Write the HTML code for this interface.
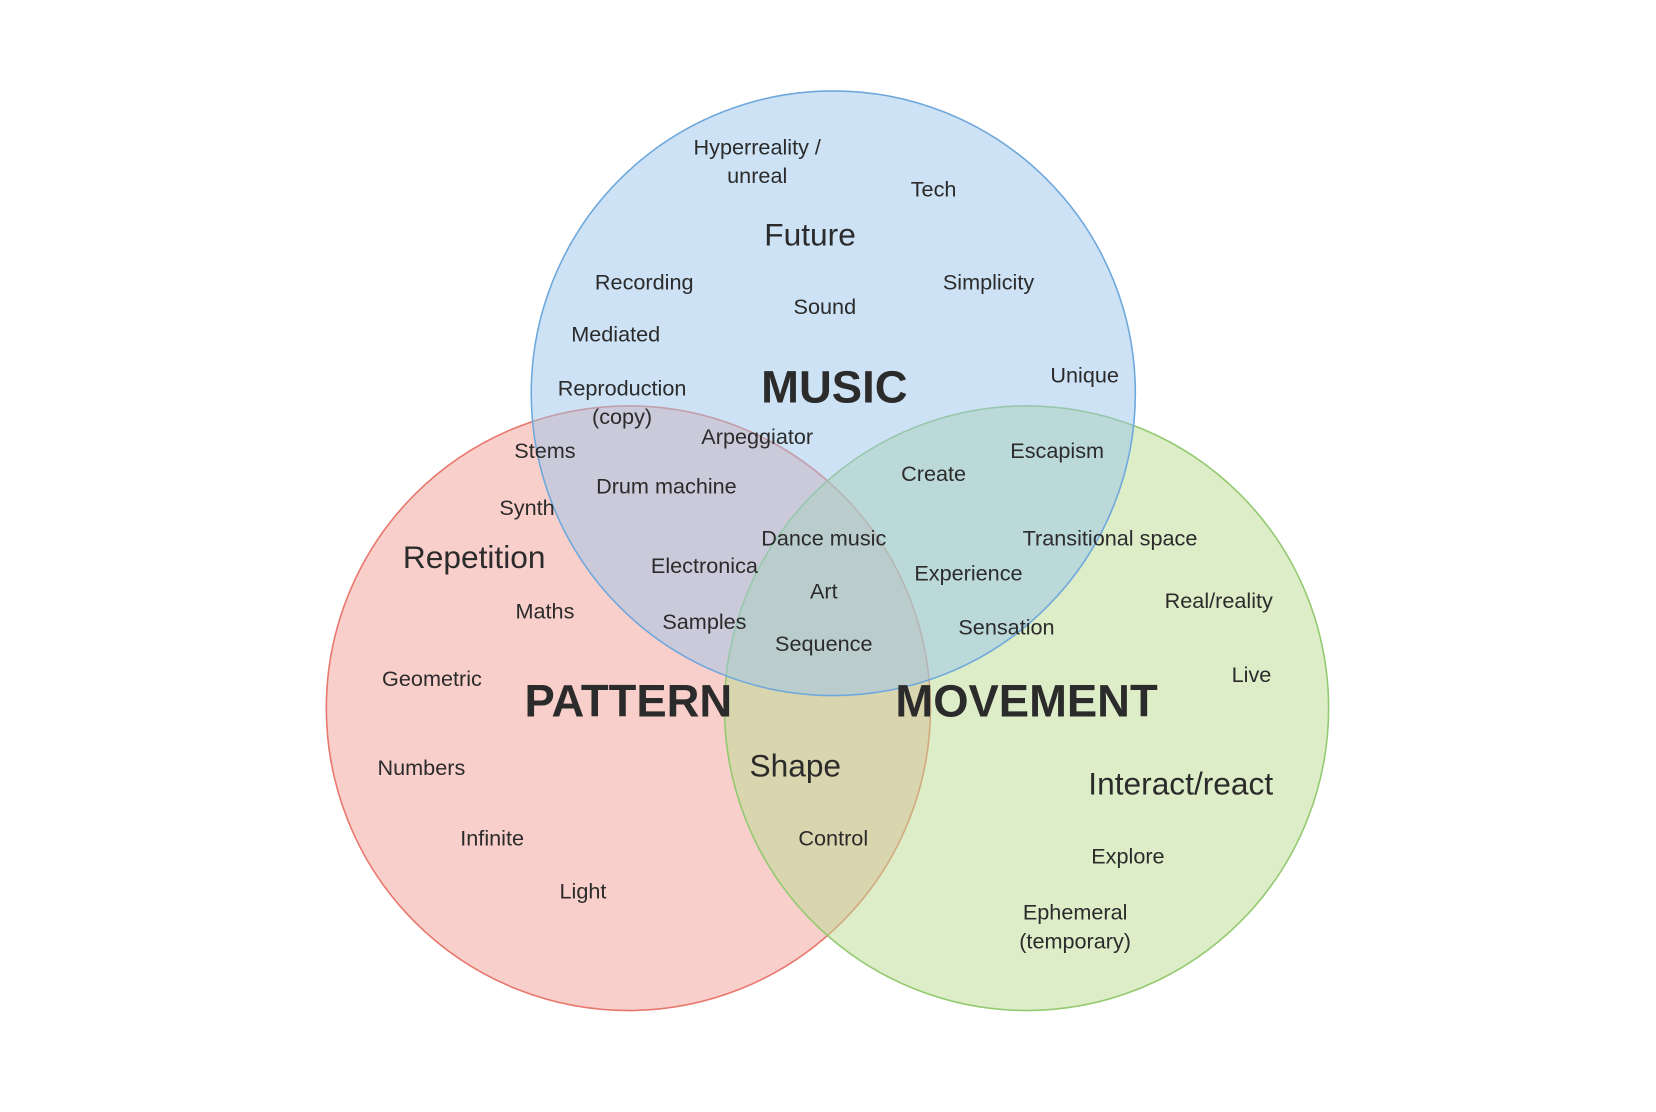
<!DOCTYPE html>
<html><head><meta charset="utf-8"><style>
html,body{margin:0;padding:0;background:#fff;width:1656px;height:1112px;overflow:hidden}
svg text{font-family:"Liberation Sans",sans-serif;fill:#2b2b2b;text-anchor:middle;dominant-baseline:central}
.s{font-size:20.5px}.m{font-size:30px}.b{font-size:43px;font-weight:bold}
</style></head><body>
<svg width="1656" height="1112" viewBox="0 0 1568 1052" preserveAspectRatio="none">
<circle cx="595" cy="670" r="286" fill="rgb(243,159,151)" fill-opacity="0.5" stroke="#e8776d" stroke-width="1.5"/>
<circle cx="972" cy="670" r="286" fill="rgb(185,219,145)" fill-opacity="0.5" stroke="#93c96f" stroke-width="1.5"/>
<circle cx="789" cy="372" r="286" fill="rgb(155,197,233)" fill-opacity="0.5" stroke="#6fa8dc" stroke-width="1.5"/>
<text class="s" x="717" y="139">Hyperreality /</text>
<text class="s" x="717" y="166">unreal</text>
<text class="s" x="884" y="179">Tech</text>
<text class="m" x="767" y="222">Future</text>
<text class="s" x="610" y="267">Recording</text>
<text class="s" x="936" y="267">Simplicity</text>
<text class="s" x="781" y="290">Sound</text>
<text class="s" x="583" y="316">Mediated</text>
<text class="s" x="1027" y="355">Unique</text>
<text class="b" x="790" y="366">MUSIC</text>
<text class="s" x="589" y="367">Reproduction</text>
<text class="s" x="589" y="394">(copy)</text>
<text class="s" x="717" y="413">Arpeggiator</text>
<text class="s" x="516" y="426">Stems</text>
<text class="s" x="1001" y="426">Escapism</text>
<text class="s" x="884" y="448">Create</text>
<text class="s" x="631" y="460">Drum machine</text>
<text class="s" x="499" y="480">Synth</text>
<text class="s" x="780" y="509">Dance music</text>
<text class="s" x="1051" y="509">Transitional space</text>
<text class="m" x="449" y="527">Repetition</text>
<text class="s" x="667" y="535">Electronica</text>
<text class="s" x="917" y="542">Experience</text>
<text class="s" x="780" y="559">Art</text>
<text class="s" x="1154" y="568">Real/reality</text>
<text class="s" x="516" y="578">Maths</text>
<text class="s" x="667" y="588">Samples</text>
<text class="s" x="953" y="593">Sensation</text>
<text class="s" x="780" y="609">Sequence</text>
<text class="s" x="1185" y="638">Live</text>
<text class="s" x="409" y="642">Geometric</text>
<text class="b" x="595" y="663">PATTERN</text>
<text class="b" x="972" y="663">MOVEMENT</text>
<text class="s" x="399" y="726">Numbers</text>
<text class="m" x="753" y="724">Shape</text>
<text class="m" x="1118" y="741">Interact/react</text>
<text class="s" x="466" y="793">Infinite</text>
<text class="s" x="789" y="793">Control</text>
<text class="s" x="1068" y="810">Explore</text>
<text class="s" x="552" y="843">Light</text>
<text class="s" x="1018" y="863">Ephemeral</text>
<text class="s" x="1018" y="890">(temporary)</text>
</svg>
</body></html>
